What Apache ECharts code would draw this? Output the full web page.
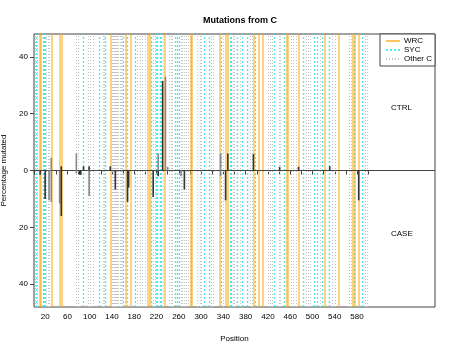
<!DOCTYPE html>
<html>
<head>
<meta charset="utf-8">
<script src="https://cdn.jsdelivr.net/npm/echarts@6/dist/echarts.min.js"></script>
<style>
  html, body { margin: 0; padding: 0; background: #fff; }
  #chart { width: 452px; height: 350px; }
</style>
</head>
<body>
<div id="chart"></div>
<script>
// positions of the C's by motif
var wrcPos = [11, 13, 31, 47, 49, 137, 165, 173, 205, 207, 234, 281, 283, 334, 345, 347, 394, 403, 411, 453, 456, 476, 522, 547, 573, 576, 583];
var sycPos = [4, 16, 18, 20, 88, 117, 128, 161, 168, 182, 210, 220, 222, 226, 229, 254, 258, 261, 283, 305, 315, 337, 353, 355, 365, 374, 383, 398, 432, 449, 484, 503, 509, 518, 530, 575, 590];
var otherPos = [2, 6, 22, 26, 28, 75, 79, 97, 101, 106, 124, 126, 140, 142, 144, 146, 148, 150, 152, 154, 156, 158, 186, 190, 195, 199, 214, 218, 232, 242, 246, 248, 265, 267, 270, 274, 277, 294, 298, 300, 318, 321, 340, 358, 360, 370, 388, 392, 420, 424, 428, 440, 443, 462, 466, 470, 488, 492, 496, 514, 536, 541, 566, 569, 595, 598];

// percentage mutated (CTRL up, CASE down)
var ctrlDark = [[49, 1.5], [89, 1.5], [99, 1.5], [137, 1.5], [231, 31.5], [348, 6], [394, 5.8], [441, 1.3], [475, 1.3], [531, 1.5]];
var ctrlGrey = [[31, 4.5], [76, 6], [223, 6], [236, 33], [240, 1.3], [335, 6]];
var caseDark = [[11, -1.5], [20, -10], [49, -16], [82, -1.5], [84, -1.5], [146, -6.7], [168, -11], [170, -6], [214, -9.3], [223, -2], [270, -6.7], [344, -10.5], [583, -10.5]];
var caseGrey = [[27, -10.5], [31, -11], [46, -11.5], [76, -1], [99, -9], [264, -2], [335, -2]];

var xTickValues = [0, 20, 40, 60, 80, 100, 120, 140, 160, 180, 200, 220, 240, 260, 280, 300, 320, 340, 360, 380, 400, 420, 440, 460, 480, 500, 520, 540, 560, 580, 600];
var xLabelValues = [20, 60, 100, 140, 180, 220, 260, 300, 340, 380, 420, 460, 500, 540, 580];
var yTickValues = [-40, -20, 0, 20, 40];

var FONT = 'Liberation Sans';
var cWRC = 'rgba(252,172,20,0.7)';
var cSYC = 'rgba(50,228,228,0.85)';
var cOther = '#c4c4c4';

function vLines(name, pos, color, type, width, z) {
    return {
        name: name,
        type: 'line',
        data: [],
        symbol: 'none',
        z: z,
        itemStyle: { color: color },
        lineStyle: { color: color, type: type, width: width },
        markLine: {
            silent: true,
            symbol: ['none', 'none'],
            label: { show: false },
            emphasis: { disabled: true },
            animation: false,
            lineStyle: { color: color, type: type, width: width },
            data: pos.map(function (v) { return { xAxis: v }; })
        }
    };
}

function bars(data, color) {
    return {
        type: 'bar',
        data: data,
        barWidth: 1.6,
        barGap: '-100%',
        z: 5,
        itemStyle: { color: color },
        emphasis: { disabled: true }
    };
}

var chart = echarts.init(document.getElementById('chart'));
var zeroSeries = bars(caseDark, '#333');
zeroSeries.markLine = {
    silent: true,
    symbol: ['none', 'none'],
    label: { show: false },
    animation: false,
    lineStyle: { color: '#444', type: 'solid', width: 1 },
    data: [{ yAxis: 0 }]
};

chart.setOption({
    animation: false,
    textStyle: { fontFamily: FONT },
    title: {
        text: 'Mutations from C',
        left: 235, top: 11,
        textAlign: 'center',
        textStyle: { fontSize: 9, fontWeight: 'bold', color: '#000', fontFamily: FONT }
    },
    grid: {
        left: 34, right: 17, top: 34, bottom: 43,
        outerBoundsMode: 'none',
        containLabel: false,
        show: true, borderColor: '#444', borderWidth: 1
    },
    legend: {
        orient: 'vertical',
        right: 17, top: 34,
        backgroundColor: '#fff',
        borderColor: '#444', borderWidth: 1, borderRadius: 0,
        padding: [3, 3, 3, 5],
        itemGap: 1,
        itemWidth: 14, itemHeight: 8,
        itemStyle: { opacity: 0 },
        textStyle: { fontSize: 8, color: '#000', fontFamily: FONT, padding: [0, 0, 0, -1] },
        data: ['WRC', 'SYC', 'Other C']
    },
    xAxis: {
        type: 'value',
        min: 0, max: 720,
        name: 'Position',
        nameLocation: 'middle',
        nameGap: 28,
        nameTextStyle: { fontSize: 8, color: '#000' },
        axisLine: { show: false },
        splitLine: { show: false },
        axisTick: { show: true, length: 4, customValues: xTickValues, lineStyle: { color: '#444' } },
        axisLabel: { fontSize: 8, color: '#000', margin: 6, customValues: xLabelValues }
    },
    yAxis: {
        type: 'value',
        min: -48, max: 48,
        name: 'Percentage mutated',
        nameLocation: 'middle',
        nameGap: 22,
        nameTextStyle: { fontSize: 8, color: '#000' },
        axisLine: { show: false },
        splitLine: { show: false },
        axisTick: { show: true, length: 4, customValues: yTickValues, lineStyle: { color: '#444' } },
        axisLabel: {
            fontSize: 8, color: '#000', margin: 6, customValues: yTickValues,
            formatter: function (v) { return Math.abs(v); }
        }
    },
    graphic: [
        { type: 'text', left: 391, top: 104, style: { text: 'CTRL', fontSize: 8, fill: '#000', fontFamily: FONT } },
        { type: 'text', left: 391, top: 230, style: { text: 'CASE', fontSize: 8, fill: '#000', fontFamily: FONT } }
    ],
    series: [
        vLines('Other C', otherPos, cOther, [1, 2], 1, 1),
        vLines('SYC', sycPos, cSYC, [2, 2], 1.3, 2),
        vLines('WRC', wrcPos, cWRC, 'solid', 1.5, 3),
        bars(ctrlGrey, '#888'),
        bars(ctrlDark, '#333'),
        bars(caseGrey, '#888'),
        zeroSeries
    ]
});
</script>
</body>
</html>
